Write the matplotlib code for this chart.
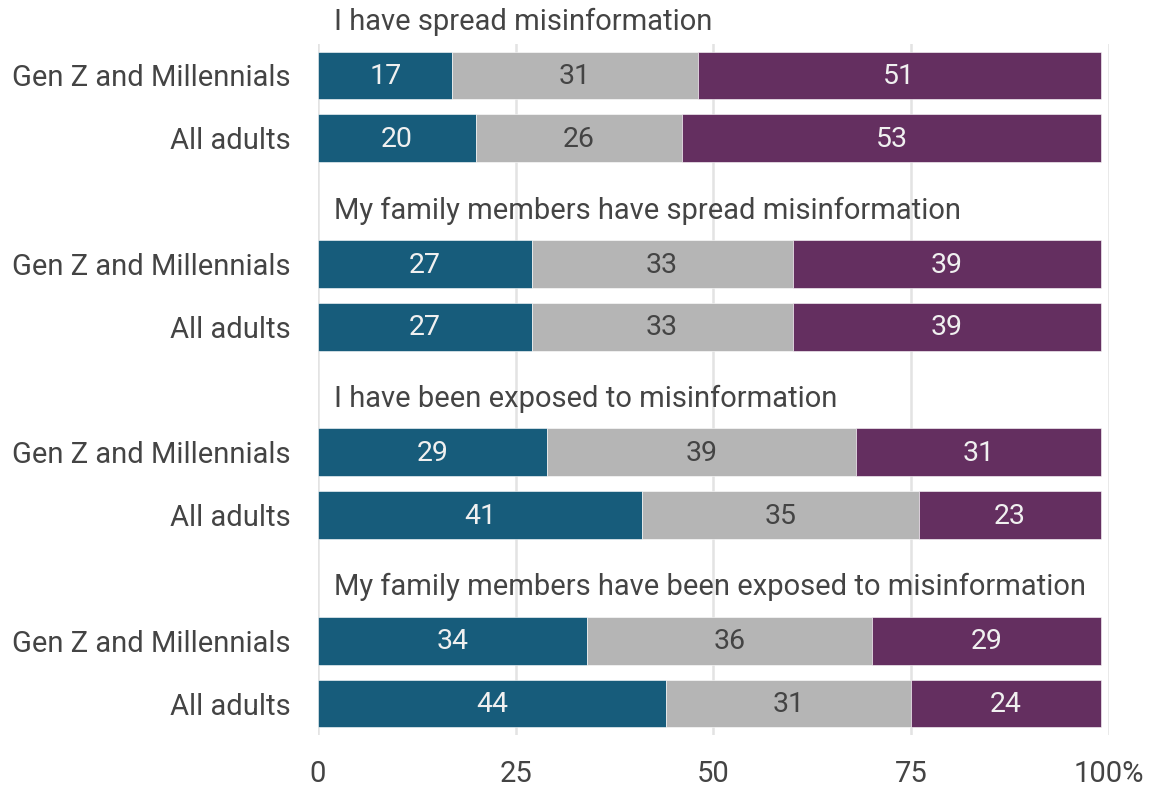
import matplotlib.pyplot as plt
import numpy as np

plt.rcParams['font.family'] = ['Roboto', 'DejaVu Sans']

# data
statements = ["I have spread misinformation",
              "My family members have spread misinformation",
              "I have been exposed to misinformation",
              "My family members have been exposed to misinformation"]
groups = ["Gen Z and Millennials", "All adults"]
first = [17, 20, 27, 27, 29, 41, 34, 44]
middle = [31, 26, 33, 33, 39, 35, 36, 31]
last = [51, 53, 39, 39, 31, 23, 29, 24]

colors = ['#175c7b', '#b5b5b5', '#642f60']
txt_colors = ['#f0f0f0', '#444444', '#f0f0f0']

fig = plt.figure(figsize=(11.61, 7.88), dpi=100)
ax = fig.add_axes([0.2739, 0.0673, 0.6813, 0.8769])

# rows: each statement takes 3 slots (title, row, row)
ypos = []
for g in range(len(statements)):
    ypos += [3 * g + 1, 3 * g + 2]
ypos = np.array(ypos)

left = np.zeros(len(first))
for vals, c, tc in zip([first, middle, last], colors, txt_colors):
    vals = np.array(vals)
    ax.barh(ypos, vals, left=left, height=0.76, color=c, edgecolor='white', linewidth=0.4, zorder=2)
    for y, l, v in zip(ypos, left, vals):
        ax.text(l + v / 2, y + 0.02, str(v), ha='center', va='center', color=tc, fontsize=20.5, zorder=3)
    left += vals

for g, s in enumerate(statements):
    ax.text(2.0, 3 * g + 0.15, s, ha='left', va='center', fontsize=21, color='#444444', clip_on=False)

ax.set_yticks(ypos)
ax.set_yticklabels(groups * len(statements))
ax.set_ylim(11.5, 0.5)
ax.set_xlim(0, 100)
ax.set_xticks([0, 25, 50, 75, 100])
ax.set_xticklabels(['0', '25', '50', '75', '100%'])
ax.tick_params(axis='both', length=0, labelsize=21, labelcolor='#444444')
ax.tick_params(axis='y', pad=20)
ax.tick_params(axis='x', pad=18)
ax.grid(axis='x', color='#e3e3e3', linewidth=1.8, zorder=0)
ax.set_axisbelow(True)
for sp in ax.spines.values():
    sp.set_visible(False)

fig.savefig('out.png', dpi=100)
